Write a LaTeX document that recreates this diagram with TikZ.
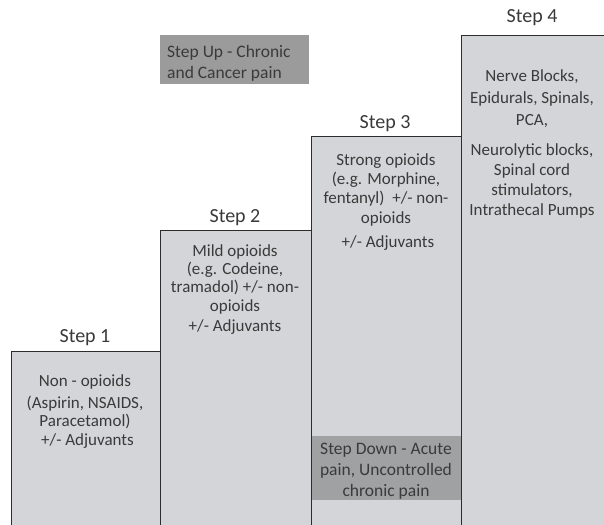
\documentclass[tikz,border=0pt]{standalone}
\usepackage{fontspec}
\setmainfont{Carlito}
\definecolor{boxgray}{RGB}{211,213,216}
\definecolor{upgray}{RGB}{155,155,155}
\definecolor{downgray}{RGB}{160,161,163}
\definecolor{txt}{RGB}{58,58,58}
\definecolor{edge}{RGB}{45,45,45}
\tikzset{
  stepbox/.style={fill=boxgray,draw=edge,line width=0.9pt},
  steplabel/.style={text=txt,font=\fontsize{20}{22}\selectfont,inner sep=0pt},
  body/.style={text=txt,font=\fontsize{17}{18.4}\selectfont,align=center,inner sep=0pt,anchor=north},
  band/.style={text=txt,font=\fontsize{17.5}{21}\selectfont,inner sep=0pt,anchor=north},
}
\begin{document}
\begin{tikzpicture}[x=1pt,y=-1pt]
\useasboundingbox (0,0) rectangle (604,524);
\clip (0,0) rectangle (604,524);
\fill[white] (0,0) rectangle (604,524);
% step boxes
\draw[stepbox] (461,35) rectangle (620,540);
\draw[stepbox] (311,136) rectangle (461,540);
\draw[stepbox] (160,230) rectangle (311,540);
\draw[stepbox] (11,351) rectangle (160,540);
% step up / step down bands
\fill[upgray] (160,35) rectangle (309,84);
\fill[downgray] (311.5,436) rectangle (460.5,500);
% labels
\node[steplabel] (s1) at (85,338) {Step 1};
\node[steplabel] (s2) at (235,218) {Step 2};
\node[steplabel] (s3) at (385,124) {Step 3};
\node[steplabel] (s4) at (532,18) {Step 4};
% body texts
\node[body] (b1) at (85,374) {Non - opioids\\[4pt](Aspirin, NSAIDS,\\Paracetamol)\\\hspace{5pt}+/- Adjuvants};
\node[body] (b2) at (235,244) {Mild opioids\\(e.g. Codeine,\\tramadol) +/- non-\\opioids\\[2pt]+/- Adjuvants};
\node[body] (b3) at (386,153) {Strong opioids\\[1pt](e.g. Morphine,\\[1pt]fentanyl)\hspace{4pt} +/- non-\\[1pt]opioids\\[6pt]\hspace{4pt}+/- Adjuvants};
\node[body] (b4) at (532,69) {Nerve Blocks,\\[3.6pt]Epidurals, Spinals,\\[3.6pt]PCA,\\[12pt]Neurolytic blocks,\\[1.6pt]Spinal cord\\[1.6pt]stimulators,\\[1.6pt]Intrathecal Pumps};
\node[band,anchor=north west,align=left] (up) at (167,45) {Step Up - Chronic\\and Cancer pain};
\node[band,align=center] (down) at (386,443) {Step Down - Acute\\pain, Uncontrolled\\chronic pain};
\end{tikzpicture}
\end{document}
